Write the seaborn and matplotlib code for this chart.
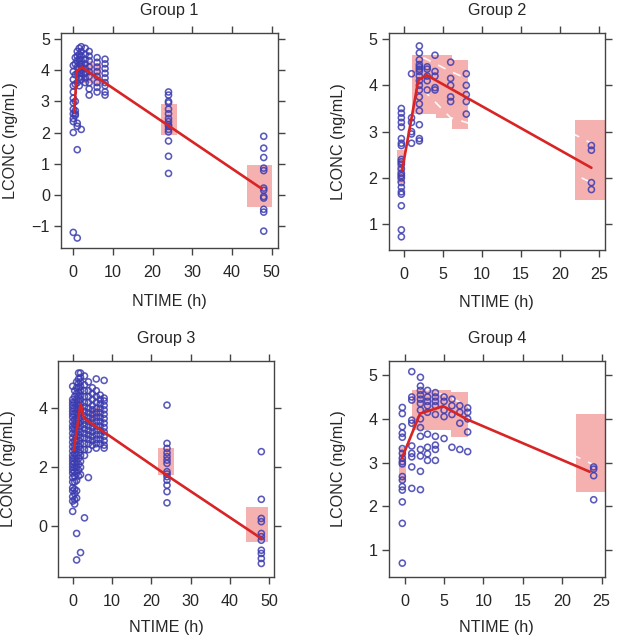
import numpy as np
import pandas as pd
import matplotlib
matplotlib.use("Agg")
import matplotlib.pyplot as plt
import seaborn as sns

sns.set_style("white")
plt.rcParams['font.family'] = ['Liberation Sans', 'DejaVu Sans']

# ---------------- data ----------------
titles = ["Group 1", "Group 2", "Group 3", "Group 4"]

# Group 1 observations (nominal time, list of LCONC values)
g1_times = [0, 0.5, 1, 1.5, 2, 3, 4, 6, 8, 24, 48]
g1_vals = [
    [4.15, 3.95, 3.7, 3.5, 3.3, 3.1, 2.95, 2.75, 2.6, 2.45, 2.35, 2.0, -1.2],
    [4.4, 4.2, 3.85, 3.55, 3.0, 2.7, 2.6, 2.55],
    [4.6, 4.45, 4.3, 4.1, 3.9, 3.6, 2.3, 2.2, 1.45, -1.38],
    [4.7, 4.5, 4.35, 4.2, 4.05, 3.9, 3.75, 3.5],
    [4.75, 4.6, 4.45, 4.3, 4.2, 4.1, 4.0, 3.9, 3.8, 3.7, 2.1],
    [4.7, 4.5, 4.35, 4.2, 4.05, 3.9, 3.75, 3.6],
    [4.6, 4.45, 4.3, 4.1, 3.95, 3.8, 3.6, 3.4, 3.2],
    [4.4, 4.25, 4.1, 3.95, 3.8, 3.6, 3.45, 3.3],
    [4.35, 4.2, 4.05, 3.9, 3.75, 3.6, 3.5, 3.3, 3.2],
    [3.3, 3.2, 3.0, 2.95, 2.75, 2.6, 2.45, 2.35, 2.25, 2.2, 2.1, 2.02, 1.73, 1.24, 0.69],
    [1.88, 1.5, 1.2, 0.86, 0.78, 0.22, 0.15, -0.05, -0.1, -0.46, -0.55, -1.16],
]
g1_med_t = [0.25, 0.9, 2.2, 24, 47.5]
g1_med_v = [2.67, 3.98, 4.09, 2.22, 0.2]
g1_ci_t0 = [2.5, 5.0, 22.1, 43.8]
g1_ci_t1 = [5.0, 7.0, 26.1, 50.0]
g1_ci_lo = [3.6, 3.5, 1.92, -0.39]
g1_ci_hi = [4.3, 4.2, 2.91, 0.96]

# Group 2
g2_times = [-0.3, 1, 2, 3, 4, 6, 8, 24]
g2_vals = [
    [3.5, 3.4, 3.3, 3.2, 3.1, 2.85, 2.75, 2.7, 2.4, 2.35, 2.3, 2.2, 2.1, 2.05, 2.0,
     1.9, 1.8, 1.7, 1.65, 1.4, 0.88, 0.73],
    [4.25, 3.3, 3.2, 3.0, 2.95, 2.75],
    [4.85, 4.7, 4.55, 4.45, 4.4, 4.35, 4.3, 4.2, 4.1, 4.0, 3.9, 3.75, 3.6, 3.45,
     3.15, 2.85, 2.8],
    [4.4, 4.35, 4.2, 4.1, 3.9],
    [4.65, 4.3, 4.2, 3.95, 3.9],
    [4.5, 4.15, 4.0, 3.75, 3.65],
    [4.25, 4.0, 3.8, 3.65, 3.38],
    [2.7, 2.6, 1.9, 1.75],
]
g2_med_t = [-0.2, 1.87, 2.94, 24]
g2_med_v = [2.17, 4.11, 4.22, 2.22]
g2_ci_t0 = [-0.8, 1.06, 4.13, 6.17, 21.95]
g2_ci_t1 = [0.2, 4.13, 6.17, 8.2, 25.7]
g2_ci_lo = [1.9, 3.39, 3.29, 3.05, 1.52]
g2_ci_hi = [2.6, 4.65, 4.65, 4.55, 3.25]
g2_p95_t = [2.5, 6, 8, 24]
g2_p95_v = [4.6, 4.3, 4.15, 2.75]
g2_p05_t = [2.5, 6, 8, 24]
g2_p05_v = [3.9, 3.3, 3.2, 1.9]

# Group 3
g3_times = [0, 0.5, 1, 1.5, 2, 3, 4, 5, 6, 7, 8, 24, 48]
g3_vals = [
    [4.75, 4.3, 4.2, 4.1, 4.0, 3.9, 3.8, 3.7, 3.55, 3.4, 3.3, 3.15, 3.0, 2.85, 2.7,
     2.55, 2.4, 2.3, 2.2, 2.1, 2.0, 1.9, 1.8, 1.65, 1.5, 1.3, 1.2, 1.0, 0.85, 0.5],
    [4.6, 4.4, 4.2, 4.0, 3.8, 3.6, 3.45, 3.3, 3.1, 2.9, 2.75, 2.6, 2.45, 2.3, 2.15,
     2.0, 1.85, 1.7, 1.5, 1.25, 1.1, 0.9, 0.75],
    [4.9, 4.7, 4.5, 4.3, 4.15, 4.0, 3.85, 3.7, 3.55, 3.4, 3.2, 3.05, 2.9, 2.75, 2.6,
     2.4, 2.2, 2.0, 1.8, 1.55, 1.2, 0.95, -0.25, -1.15],
    [5.2, 5.0, 4.85, 4.7, 4.55, 4.4, 4.25, 4.1, 3.95, 3.8, 3.65, 3.5, 3.3, 3.1, 2.9,
     2.7, 2.5, 2.3, 2.1, 1.9, 1.7],
    [5.2, 5.05, 4.9, 4.75, 4.6, 4.45, 4.3, 4.15, 4.0, 3.85, 3.7, 3.55, 3.4, 3.2, 3.0,
     2.8, 2.6, 2.4, 2.2, 2.0, 1.75, -0.9],
    [5.1, 4.8, 4.6, 4.4, 4.2, 4.05, 3.9, 3.75, 3.6, 3.45, 3.3, 3.15, 3.0, 2.8, 2.6,
     2.4, 0.28],
    [4.9, 4.6, 4.4, 4.2, 4.0, 3.85, 3.7, 3.55, 3.4, 3.25, 3.1, 2.95, 2.8, 2.6, 1.65],
    [4.7, 4.5, 4.3, 4.1, 3.95, 3.8, 3.65, 3.5, 3.35, 3.2, 3.05, 2.9, 2.75],
    [5.0, 4.6, 4.4, 4.2, 4.0, 3.85, 3.7, 3.55, 3.4, 3.25, 3.1, 2.95, 2.8, 2.65],
    [4.45, 4.3, 4.15, 4.0, 3.85, 3.7, 3.55, 3.4, 3.25, 3.1, 2.95, 2.8],
    [4.95, 4.35, 4.25, 4.1, 3.95, 3.8, 3.65, 3.5, 3.35, 3.2, 3.05, 2.9, 2.75, 2.65],
    [4.11, 2.81, 2.64, 2.49, 2.36, 2.24, 2.13, 1.85, 1.77, 1.68, 1.56, 1.39, 1.17, 0.79],
    [2.53, 0.91, 0.26, 0.15, -0.25, -0.36, -0.48, -0.82, -0.93, -1.1, -1.27],
]
g3_med_t = [0.3, 2.0, 2.9, 24, 48]
g3_med_v = [2.58, 4.15, 3.66, 1.72, -0.42]
g3_ci_t0 = [4.5, 21.8, 44.0]
g3_ci_t1 = [7.0, 25.8, 49.8]
g3_ci_lo = [3.6, 1.73, -0.54]
g3_ci_hi = [4.0, 2.64, 0.65]

# Group 4
g4_times = [-0.3, 0.9, 2, 2.9, 3.9, 5, 6, 7, 8, 24]
g4_vals = [
    [4.26, 4.12, 3.82, 3.67, 3.58, 3.32, 3.21, 3.1, 3.02, 2.97, 2.68, 2.6, 2.45,
     2.37, 2.1, 1.61, 0.7],
    [5.08, 4.5, 4.43, 3.97, 3.9, 3.38, 3.21, 3.13, 2.9, 2.41],
    [4.95, 4.75, 4.65, 4.55, 4.45, 4.35, 4.2, 4.0, 3.8, 3.6, 3.3, 3.15, 2.8, 2.38],
    [4.65, 4.5, 4.4, 4.3, 4.15, 3.65, 3.35, 3.2, 3.05],
    [4.6, 4.5, 4.4, 4.3, 4.1, 3.6, 3.4, 3.3, 3.05],
    [4.5, 4.4, 4.2, 4.05, 3.55],
    [4.45, 4.3, 4.1, 3.35],
    [4.3, 4.15, 3.9, 3.3],
    [4.25, 4.15, 4.0, 3.7, 3.25],
    [2.9, 2.85, 2.7, 2.15],
]
g4_med_t = [-0.35, 1.95, 4.9, 7.9, 23.5]
g4_med_v = [3.1, 4.12, 4.29, 3.99, 2.79]
g4_ci_t0 = [-0.7, 0.93, 5.9, 21.8]
g4_ci_t1 = [0.2, 5.9, 8.05, 25.4]
g4_ci_lo = [2.55, 3.74, 3.58, 2.33]
g4_ci_hi = [3.35, 4.66, 4.62, 4.10]
g4_p95_t = [2, 5, 8, 24]
g4_p95_v = [4.7, 4.55, 4.3, 2.95]

# ---------------- layout / style ----------------
W, H = 624, 639
fig = plt.figure(figsize=(W / 100, H / 100), dpi=100)

def px_axes(l, t, r, b):
    return fig.add_axes([l / W, 1 - b / H, (r - l) / W, (b - t) / H])

pt_color = "#3c3cb0"
line_color = "#d82424"
pink = "#f5b0b0"
FS = 11.6

panels = [
    dict(box=(61, 33, 278, 248), xlim=(-3.1, 51.6), ylim=(-1.7, 5.19),
         xt=[0, 10, 20, 30, 40, 50], yt=[-1, 0, 1, 2, 3, 4, 5],
         times=g1_times, vals=g1_vals, mt=g1_med_t, mv=g1_med_v,
         ci=(g1_ci_t0, g1_ci_t1, g1_ci_lo, g1_ci_hi), dashed=[]),
    dict(box=(388.7, 33, 604.7, 250), xlim=(-1.92, 25.7), ylim=(0.445, 5.13),
         xt=[0, 5, 10, 15, 20, 25], yt=[1, 2, 3, 4, 5],
         times=g2_times, vals=g2_vals, mt=g2_med_t, mv=g2_med_v,
         ci=(g2_ci_t0, g2_ci_t1, g2_ci_lo, g2_ci_hi),
         dashed=[(g2_p95_t, g2_p95_v), (g2_p05_t, g2_p05_v)]),
    dict(box=(58.3, 360.7, 274.3, 577.3), xlim=(-3.66, 51.3), ylim=(-1.74, 5.62),
         xt=[0, 10, 20, 30, 40, 50], yt=[0, 2, 4],
         times=g3_times, vals=g3_vals, mt=g3_med_t, mv=g3_med_v,
         ci=(g3_ci_t0, g3_ci_t1, g3_ci_lo, g3_ci_hi), dashed=[]),
    dict(box=(388.7, 360.7, 604.7, 577.3), xlim=(-2.03, 25.4), ylim=(0.376, 5.33),
         xt=[0, 5, 10, 15, 20, 25], yt=[1, 2, 3, 4, 5],
         times=g4_times, vals=g4_vals, mt=g4_med_t, mv=g4_med_v,
         ci=(g4_ci_t0, g4_ci_t1, g4_ci_lo, g4_ci_hi),
         dashed=[(g4_p95_t, g4_p95_v)]),
]
ylab_x = [-0.2, -0.198, -0.196, -0.198]
xlab_y = [-0.215, -0.208, -0.195, -0.195]

for i, p in enumerate(panels):
    ax = px_axes(*p["box"])
    # confidence boxes
    for t0, t1, lo, hi in zip(*p["ci"]):
        ax.fill_between([t0, t1], [lo, lo], [hi, hi], color=pink, lw=0, zorder=1)
    # white dashed percentile lines
    for dt, dv in p["dashed"]:
        ax.plot(dt, dv, color="white", lw=1.2, ls=(0, (5, 5)), alpha=0.9, zorder=2)
    # observations
    tt, vv = [], []
    for t, vals in zip(p["times"], p["vals"]):
        tt += [t] * len(vals)
        vv += vals
    df = pd.DataFrame({"NTIME": tt, "LCONC": vv})
    sns.scatterplot(data=df, x="NTIME", y="LCONC", ax=ax, marker="o", s=19,
                    facecolor="none", edgecolor=pt_color, linewidth=1.15,
                    alpha=0.85, zorder=3, legend=False)
    # median line
    sns.lineplot(x=p["mt"], y=p["mv"], ax=ax, sort=False, estimator=None,
                 color=line_color, lw=1.9, zorder=4)

    ax.set_xlim(*p["xlim"])
    ax.set_ylim(*p["ylim"])
    ax.set_xticks(p["xt"])
    ax.set_yticks(p["yt"])
    for s in ax.spines.values():
        s.set_visible(True)
        s.set_color("#444444")
        s.set_linewidth(1.0)
    ax.tick_params(axis="both", which="both", direction="out", length=5,
                   width=1.0, color="#444444", labelsize=FS,
                   top=True, right=True, bottom=True, left=True,
                   labeltop=False, labelright=False)
    ax.tick_params(axis="x", pad=7)
    ax.tick_params(axis="y", pad=3)
    ax.set_xlabel("NTIME (h)", fontsize=FS)
    ax.set_ylabel("LCONC (ng/mL)", fontsize=FS)
    ax.xaxis.set_label_coords(0.5, xlab_y[i])
    ax.yaxis.set_label_coords(ylab_x[i], 0.5)
    ax.set_title(titles[i], fontsize=FS, pad=13)

fig.savefig("out.png", dpi=100)
